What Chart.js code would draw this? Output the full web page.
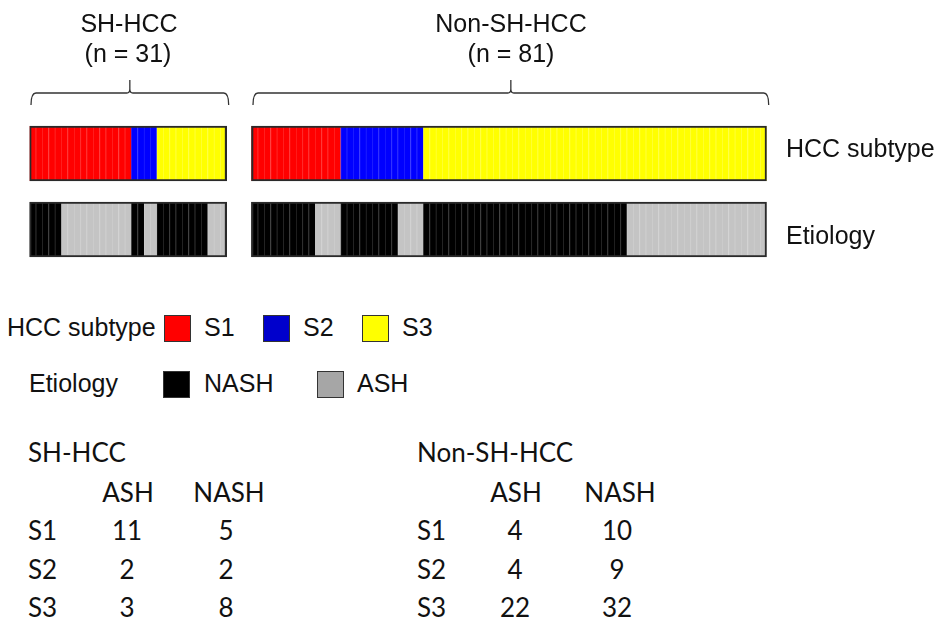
<!DOCTYPE html>
<html>
<head>
<meta charset="utf-8">
<script src="https://cdn.jsdelivr.net/npm/chart.js@4.4.1/dist/chart.umd.min.js"></script>
<style>
  html, body { margin: 0; padding: 0; background: #ffffff; }
  body { width: 944px; height: 630px; position: relative; overflow: hidden; }
  #wrap { position: absolute; left: 0; top: 0; width: 944px; height: 300px; }
  .t { position: absolute; white-space: nowrap; line-height: 1; color: #111; }
  .a { font-family: "Liberation Sans", Arial, sans-serif; font-size: 25px; }
  .c { font-family: "Lato", "Open Sans", sans-serif; font-size: 26px; }
  .ctr { text-align: center; }
  .box { position: absolute; border: 1.5px solid #333; box-sizing: border-box; }
</style>
</head>
<body>
<div id="wrap"><canvas id="chart"></canvas></div>
<div id="labels"></div>
<script>
// ---------------- data ----------------
const groups = ['SH-HCC', 'Non-SH-HCC'];
const groupN = [31, 81];
const rows = ['HCC subtype', 'Etiology'];
const subtypes = ['S1', 'S2', 'S3'];
const etiologies = ['NASH', 'ASH'];
// counts per subtype (S1, S2, S3)
const shASH = [11, 2, 3];
const shNASH = [5, 2, 8];
const nonASH = [4, 4, 22];
const nonNASH = [10, 9, 32];
const groupGap = 3.9; // empty space between the two groups, in sample units

// ---------------- styles ----------------
const subtypeColor = ['#ff0000', '#0000ff', '#ffff00'];
const subtypeStripe = ['#ff2828', '#2222ff', '#ffff3c'];
const etioColor = { NASH: '#000000', ASH: '#c4c4c4' };
const etioStripe = { NASH: '#2e2e2e', ASH: '#cecece' };
const legendSubtypeColor = ['#ff0000', '#0000cc', '#ffff00'];
const legendEtioColor = { NASH: '#000000', ASH: '#a6a6a6' };

// ---------------- build samples from counts ----------------
function buildGroup(ash, nash, offset) {
  const out = [];
  let pos = offset;
  subtypes.forEach((s, k) => {
    for (let i = 0; i < nash[k]; i++) out.push({ pos: pos++, sub: k, etio: 'NASH' });
    for (let i = 0; i < ash[k]; i++) out.push({ pos: pos++, sub: k, etio: 'ASH' });
  });
  return out;
}
const start0 = 0;
const start1 = groupN[0] + groupGap;
const samples = buildGroup(shASH, shNASH, start0).concat(buildGroup(nonASH, nonNASH, start1));
const xMax = start1 + groupN[1];

const datasets = samples.map(s => ({
  data: [[s.pos, s.pos + 1], [s.pos, s.pos + 1]],
  backgroundColor: [subtypeColor[s.sub], etioColor[s.etio]],
  borderColor: [subtypeStripe[s.sub], etioStripe[s.etio]],
  borderWidth: { left: 1, right: 0, top: 0, bottom: 0 },
  borderSkipped: false,
  order: 1
}));
const groupStarts = [start0, start1];
groupStarts.forEach((st, g) => {
  datasets.push({
    data: [[st, st + groupN[g]], [st, st + groupN[g]]],
    backgroundColor: 'rgba(0,0,0,0)',
    borderColor: '#2a2a2a',
    borderWidth: 1.5,
    borderSkipped: false,
    order: 0
  });
});

const bracketPlugin = {
  id: 'brackets',
  afterDatasetsDraw(chart) {
    const ctx = chart.ctx;
    const xs = chart.scales.x;
    ctx.save();
    ctx.strokeStyle = '#333';
    ctx.lineWidth = 1.3;
    const yLine = 93, yEnd = 105, yTop = 80, r = 5;
    groupStarts.forEach((st, g) => {
      const x0 = xs.getPixelForValue(st) + 1.5;
      const x1 = xs.getPixelForValue(st + groupN[g]) + 2;
      const xc = (x0 + x1) / 2;
      ctx.beginPath();
      ctx.moveTo(x0, yEnd);
      ctx.quadraticCurveTo(x0, yLine, x0 + r, yLine);
      ctx.lineTo(xc - 3, yLine);
      ctx.quadraticCurveTo(xc, yLine, xc, yLine - 4);
      ctx.lineTo(xc, yTop);
      ctx.moveTo(xc, yLine - 4);
      ctx.quadraticCurveTo(xc, yLine, xc + 3, yLine);
      ctx.lineTo(x1 - r, yLine);
      ctx.quadraticCurveTo(x1, yLine, x1, yEnd);
      ctx.stroke();
    });
    ctx.restore();
  }
};

new Chart(document.getElementById('chart'), {
  type: 'bar',
  data: { labels: rows, datasets },
  options: {
    indexAxis: 'y',
    responsive: true,
    maintainAspectRatio: false,
    animation: false,
    events: [],
    layout: { padding: { left: 29.5, right: 177.3, top: 115.5, bottom: 32.5 } },
    datasets: { bar: { grouped: false, barThickness: 55 } },
    scales: {
      x: { type: 'linear', min: 0, max: xMax, display: false },
      y: { type: 'category', display: false }
    },
    plugins: { legend: { display: false }, tooltip: { enabled: false } }
  },
  plugins: [bracketPlugin]
});

// ---------------- text & legend (HTML) ----------------
const L = document.getElementById('labels');
function txt(str, cls, left, top, w) {
  const d = document.createElement('div');
  d.className = 't ' + cls + (w ? ' ctr' : '');
  d.textContent = str;
  d.style.left = (w ? left - w / 2 : left) + 'px';
  d.style.top = top + 'px';
  if (w) d.style.width = w + 'px';
  L.appendChild(d);
}
function box(color, left, top, w, h) {
  const d = document.createElement('div');
  d.className = 'box';
  d.style.background = color;
  d.style.left = left + 'px'; d.style.top = top + 'px';
  d.style.width = w + 'px'; d.style.height = h + 'px';
  L.appendChild(d);
}
// group headers
txt(groups[0], 'a', 129, 11, 200);
txt('(n = ' + groupN[0] + ')', 'a', 128, 41, 200);
txt(groups[1], 'a', 511, 11, 240);
txt('(n = ' + groupN[1] + ')', 'a', 511, 41, 240);
// row labels
txt(rows[0], 'a', 786, 136);
txt(rows[1], 'a', 786, 223);
// legend
txt('HCC subtype', 'a', 7, 315);
const subBoxX = [164, 263, 362], subTxtX = [204, 303, 402];
subtypes.forEach((s, k) => { box(legendSubtypeColor[k], subBoxX[k], 315, 27, 27); txt(s, 'a', subTxtX[k], 315); });
txt('Etiology', 'a', 29, 371);
const etBoxX = [163, 317], etTxtX = [204, 357];
etiologies.forEach((e, k) => { box(legendEtioColor[e], etBoxX[k], 371, 27, 27); txt(e, 'a', etTxtX[k], 371); });
// tables
function table(title, ash, nash, left, ashC, nashC) {
  txt(title, 'c', left, 439);
  txt('ASH', 'c', ashC, 479, 100);
  txt('NASH', 'c', nashC, 479, 100);
  const baseTops = [517, 556, 594];
  subtypes.forEach((s, k) => {
    txt(s, 'c', left, baseTops[k]);
    txt(String(ash[k]), 'c', ashC - 1, baseTops[k], 100);
    txt(String(nash[k]), 'c', nashC - 3, baseTops[k], 100);
  });
}
table(groups[0], shASH, shNASH, 28, 128, 229);
table(groups[1], nonASH, nonNASH, 417, 516, 620);
</script>
</body>
</html>
